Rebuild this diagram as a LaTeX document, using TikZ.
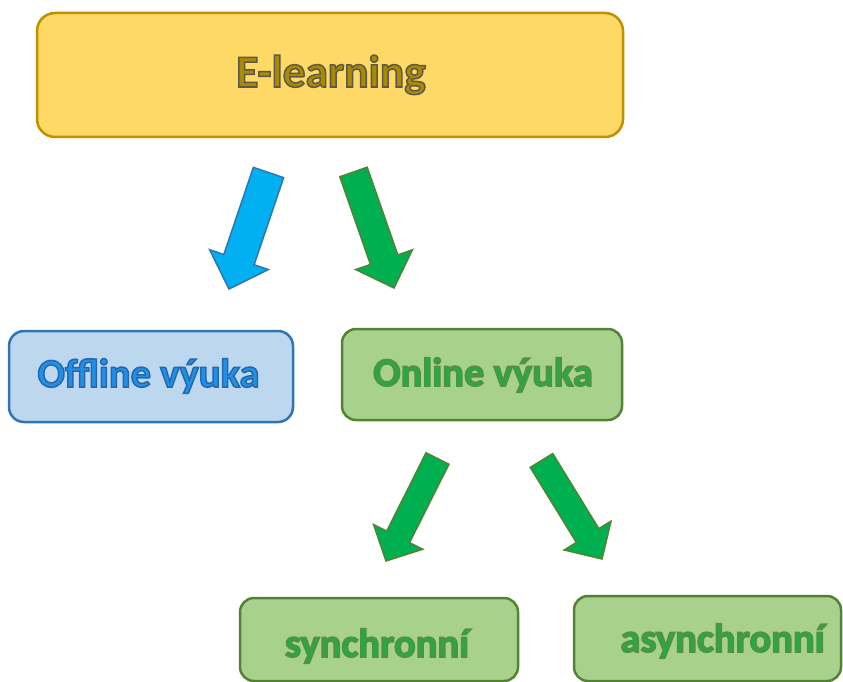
\documentclass[tikz,border=0pt]{standalone}
\usepackage{fontspec}
\setmainfont{Carlito}
\usetikzlibrary{calc}
\definecolor{goldfill}{HTML}{FFD966}
\definecolor{golddraw}{HTML}{BF9000}
\definecolor{goldtext}{RGB}{170,138,0}
\definecolor{bluefill}{HTML}{BDD7EE}
\definecolor{bluedraw}{HTML}{2E75B6}
\definecolor{bluetext}{RGB}{30,146,232}
\definecolor{greenfill}{HTML}{A9D18E}
\definecolor{greendraw}{HTML}{548235}
\definecolor{greentext}{RGB}{40,168,72}
\definecolor{arrowblue}{HTML}{00B0F0}
\definecolor{arrowgreen}{HTML}{00B050}
% outlined text: #1 fill colour, #2 stroke rgb, #3 text
\newcommand{\outltext}[3]{{\color{#1}\special{pdf:literal direct 2 Tr 1.5 w #2 RG}#3\special{pdf:literal direct 0 Tr}}}
\newcommand{\blockarrow}[6]{%
  \coordinate (#1-b) at ($(#2)!#5!(#1)$);
  \draw[#6] ($(#1)!#3!90:(#2)$) -- ($(#1-b)!#3!90:(#2)$) -- ($(#1-b)!#4!90:(#2)$) -- (#2)
    -- ($(#1-b)!#4!-90:(#2)$) -- ($(#1-b)!#3!-90:(#2)$) -- ($(#1)!#3!-90:(#2)$) -- cycle;}
\tikzset{
  box/.style={rectangle, inner sep=0pt, line width=2.5pt},
  ebox/.style={box, draw=golddraw, fill=goldfill, rounded corners=18pt},
  bbox/.style={box, draw=bluedraw, fill=bluefill, rounded corners=15pt},
  gbox/.style={box, draw=greendraw, fill=greenfill, rounded corners=14pt},
  lbl/.style={anchor=base, inner sep=0pt, font=\bfseries\fontsize{40.5}{46}\selectfont},
  bigl/.style={anchor=base, inner sep=0pt, font=\bfseries\fontsize{45.5}{52}\selectfont},
  bluearr/.style={draw=bluedraw, fill=arrowblue, line width=1.5pt},
  greenarr/.style={draw=greendraw, fill=arrowgreen, line width=1.5pt}
}
\begin{document}
\begin{tikzpicture}[x=1pt,y=-1pt]
\useasboundingbox (0,0) rectangle (843,682);
% boxes
\node[ebox, minimum width=586pt, minimum height=124pt] (elearn) at (330,75) {};
\node[bbox, minimum width=284pt, minimum height=91pt] (offline) at (151,376.5) {};
\node[gbox, minimum width=280pt, minimum height=91pt] (online) at (482,374.5) {};
\node[gbox, minimum width=278pt, minimum height=83pt] (sync) at (379,639.5) {};
\node[gbox, minimum width=267pt, minimum height=85pt] (async) at (707.5,638.5) {};
% labels
\node[bigl] (elearnT) at (331,87) {\outltext{goldtext}{0.36 0.35 0.30}{E-learning}};
\node[lbl] (offlineT) at (148.5,387) {\outltext{bluetext}{0.15 0.40 0.68}{Offline výuka}};
\node[lbl] (onlineT) at (483,386) {\outltext{greentext}{0.33 0.56 0.26}{Online výuka}};
\node[lbl] (syncT) at (377,657) {\outltext{greentext}{0.33 0.56 0.26}{synchronní}};
\node[lbl] (asyncT) at (722.5,652) {\outltext{greentext}{0.33 0.56 0.26}{asynchronní}};
% arrow end points
\coordinate (a1t) at (268.5,172.5); \coordinate (a1h) at (229,289);
\coordinate (a2t) at (353.5,172);   \coordinate (a2h) at (394,288);
\coordinate (a3t) at (437.5,458.5); \coordinate (a3h) at (386,561);
\coordinate (a4t) at (541.5,460.5); \coordinate (a4h) at (602,559);
\blockarrow{a1t}{a1h}{16pt}{31pt}{31pt}{bluearr}
\blockarrow{a2t}{a2h}{14.5pt}{30pt}{30pt}{greenarr}
\blockarrow{a3t}{a3h}{12.8pt}{27.5pt}{27pt}{greenarr}
\blockarrow{a4t}{a4h}{13.2pt}{27.5pt}{27.5pt}{greenarr}
\end{tikzpicture}
\end{document}
